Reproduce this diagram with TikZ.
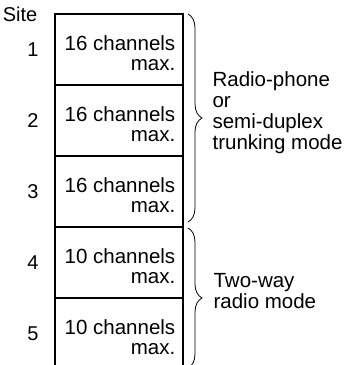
\documentclass[tikz,border=0pt]{standalone}
\usepackage{fontspec}
\setmainfont{Liberation Sans}
\usetikzlibrary{decorations.pathreplacing}

\tikzset{
  celltext/.style={align=right, inner sep=0pt, font=\fontsize{20.5}{19.5}\selectfont},
  sitelabel/.style={inner sep=0pt, font=\fontsize{20}{20}\selectfont},
  modetext/.style={align=left, anchor=north west, inner sep=0pt, font=\fontsize{20.5}{21}\selectfont},
  bracket/.style={decorate, line width=0.8pt, decoration={brace, amplitude=14pt}}
}

\begin{document}
\begin{tikzpicture}[x=1pt, y=-1pt, line width=1.2pt]
    \useasboundingbox (0,0) rectangle (346,365);

    % Column of sites
    \draw (55,365) -- (55,14) -- (183,14) -- (183,365);
    \node[sitelabel] (site) at (20,14) {Site};
    \foreach \i/\n in {1/16, 2/16, 3/16, 4/10, 5/10} {
        \pgfmathsetmacro{\top}{14+(\i-1)*71}
        \ifnum\i>1 \draw (55,\top) -- (183,\top); \fi
        \node[sitelabel] (site\i) at (33,\top+36) {\i};
        \node[celltext] (cell\i) at (120,\top+39) {\n{} channels\\max.};
    }

    % Braces
    \coordinate (b1top) at (188,14);
    \coordinate (b1bot) at (188,222);
    \coordinate (b2top) at (188,228);
    \coordinate (b2bot) at (188,368);
    \draw[bracket] (b1top) -- (b1bot);
    \draw[bracket] (b2top) -- (b2bot);

    % Modes
    \node[modetext] (mode1) at (212,71) {Radio-phone\\or\\semi-duplex\\trunking mode};
    \node[modetext] (mode2) at (213,273) {Two-way\\radio mode};
\end{tikzpicture}
\end{document}
